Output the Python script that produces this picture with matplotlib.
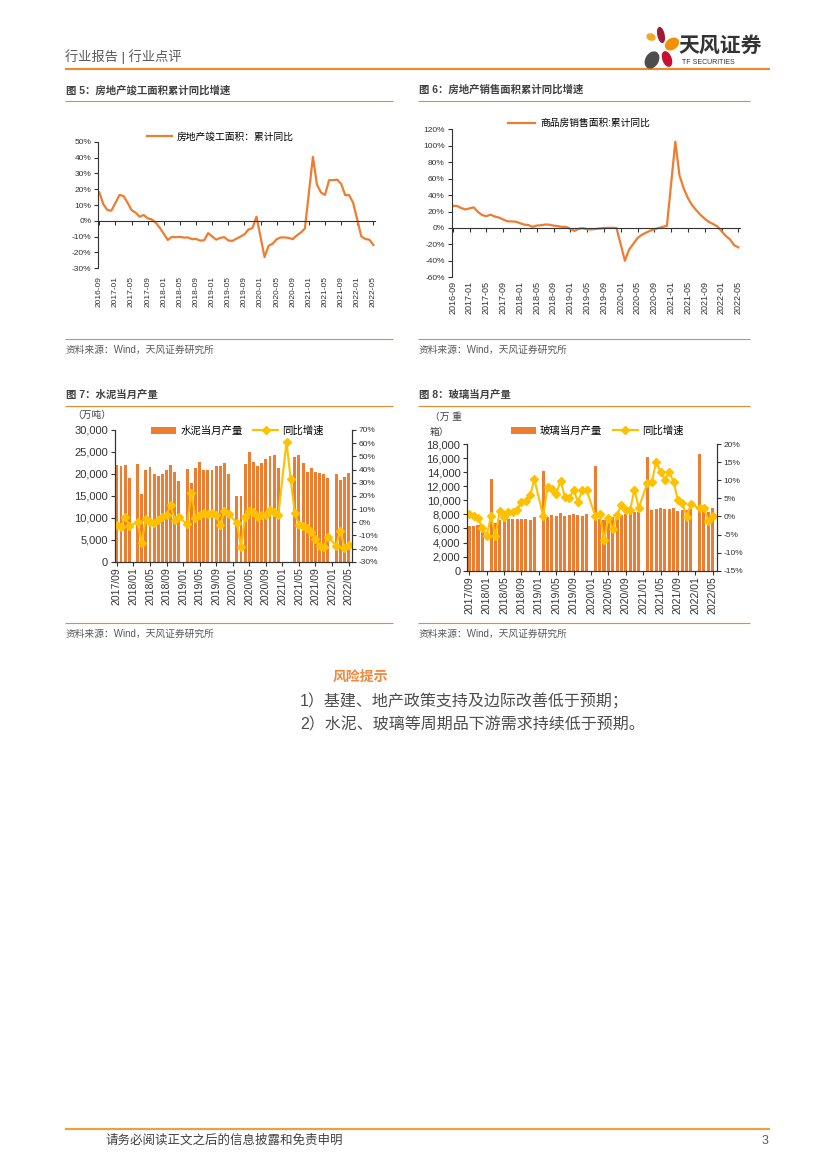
import numpy as np
import pandas as pd
import matplotlib
matplotlib.use('Agg')
import matplotlib.pyplot as plt
from matplotlib.patches import Ellipse
from matplotlib.ticker import FuncFormatter, MultipleLocator

plt.rcParams['font.family'] = ['Liberation Sans', 'Noto Sans CJK SC']
plt.rcParams['axes.unicode_minus'] = False

nan = np.nan

# 图5 / 图6：2016-09 ~ 2022-05，累计同比(%)，1月无数据
meses_56 = pd.date_range('2016-09-01', '2022-05-01', freq='MS').strftime('%Y-%m').tolist()
jungong = [18.0, 10.5, 6.8, 6.4,
           nan, 16.3, 15.7, 11.5, 6.8, 5.2, 2.6, 3.7, 1.6, 0.9, -1.2, -4.4,
           nan, -12.1, -10.1, -10.4, -10.1, -10.6, -10.5, -11.6, -11.4, -12.5, -12.3, -7.8,
           nan, -11.9, -10.8, -10.3, -12.4, -12.7, -11.3, -10.0, -8.6, -5.5, -4.5, 2.6,
           nan, -22.9, -15.8, -14.5, -11.6, -10.5, -10.5, -10.8, -11.6, -9.2, -7.4, -4.9,
           nan, 40.4, 22.9, 17.9, 16.4, 25.7, 25.7, 26.0, 23.4, 16.3, 16.2, 11.2,
           nan, -9.8, -11.5, -11.9, -15.3]
xiaoshou = [26.9, 26.8, 24.3, 22.5,
            nan, 25.1, 19.5, 15.7, 14.3, 16.1, 14.0, 12.7, 10.3, 8.2, 7.9, 7.7,
            nan, 4.1, 3.6, 1.3, 2.9, 3.3, 4.2, 4.0, 2.9, 2.2, 1.4, 1.3,
            nan, -3.6, -0.9, -0.3, -1.6, -1.8, -1.3, -0.6, -0.1, 0.1, 0.2, -0.1,
            nan, -39.9, -26.3, -19.3, -12.3, -8.4, -5.8, -3.3, -1.8, 0.0, 1.3, 2.6,
            nan, 104.9, 63.8, 48.1, 36.3, 27.7, 21.5, 15.9, 11.3, 7.3, 4.8, 1.9,
            nan, -9.6, -13.8, -20.9, -23.6]

# 图7 / 图8：2017/09 ~ 2022/05 当月产量与同比(%)
meses_78 = pd.date_range('2017-09-01', '2022-05-01', freq='MS').strftime('%Y/%m').tolist()
shuini = [22000, 21900, 22000, 19100, nan, 22300, 15400, 21000, 21500, 20000, 19500, 20000,
          20800, 22000, 20500, 18300, nan, 21200, 18000, 21400, 22700, 21000, 21000, 21000,
          21700, 21800, 22400, 20000, nan, 15000, 14900, 22300, 24900, 22800, 21800, 22500,
          23400, 24100, 24400, 21300, nan, nan, nan, 23900, 24200, 22400, 20500, 21400,
          20500, 20200, 19900, 19000, nan, 19900, 18600, 19400, 20200]
shuini_yoy = [-2.2, -3.6, 4.3, -2.9, nan, 0.0, -15.6, 2.5, 0.4, -0.9, 1.6, 4.2,
              5.4, 13.0, 1.6, 3.7, nan, -1.4, 22.2, 2.9, 5.4, 6.7, 5.9, 7.2,
              5.4, -2.2, 8.7, 6.2, nan, -0.4, -18.6, 4.2, 8.7, 8.0, 3.7, 5.4,
              5.4, 9.2, 8.0, 5.4, nan, 61.0, 32.5, 6.7, -2.2, -2.9, -4.7, -7.5,
              -13.0, -18.0, -18.6, -11.0, nan, -17.8, -6.5, -19.5, -17.0]
boli = [6300, 6400, 6500, 5900, nan, 13000, 6800, 7200, 7300, 7300, 7300, 7300,
        7300, 7400, 7200, 7600, nan, 14200, 7600, 7900, 7800, 8150, 7800, 7900,
        8050, 7900, 7800, 8100, nan, 14900, 7400, 7200, 7300, 7600, 7800, 7900,
        8050, 8250, 8400, 8400, nan, 16100, 8600, 8700, 8850, 8750, 8800, 8850,
        8500, 8600, 8600, 8700, nan, 16600, 8600, 8400, 8850]
boli_yoy = [0.8, 0.2, -0.4, -3.2, -5.4, 0.1, -5.4, 1.4, -0.3, 1.2, 1.3, 1.9,
            4.0, 4.3, 5.9, 10.2, nan, 0.0, 8.0, 7.5, 6.2, 9.9, 5.4, 5.0,
            7.3, 4.0, 7.3, 7.2, nan, 0.1, 0.6, -6.5, -0.5, -3.6, 0.4, 3.2,
            1.7, 1.8, 7.4, 2.4, nan, 9.3, 9.4, 15.1, 12.3, 10.1, 12.3, 9.6,
            4.5, 3.8, -0.1, 3.4, nan, 2.2, 2.2, -1.2, 0.0]

NARANJA = '#ED7D31'
AMARILLO = '#FFC000'
LINEA = '#E98B2E'
GRIS = '#404040'

W, H = 827, 1169
fig = plt.figure(figsize=(W / 100, H / 100), dpi=100)

# capa de pagina en pixeles
page = fig.add_axes([0, 0, 1, 1])
page.set_xlim(0, W)
page.set_ylim(H, 0)
page.axis('off')


def eje(l, t, r, b):
    return fig.add_axes([l / W, 1 - b / H, (r - l) / W, (b - t) / H])


def raya(x0, x1, y, color=LINEA, lw=0.8):
    page.plot([x0, x1], [y, y], color=color, lw=lw, solid_capstyle='butt')


pct = FuncFormatter(lambda v, p: '%d%%' % round(v))
miles = FuncFormatter(lambda v, p: '{:,.0f}'.format(v))

# cabecera
page.text(65, 57, '行业报告 | 行业点评', fontsize=9.5, color='#595959', va='center')
raya(65, 770, 69, color=LINEA, lw=1.6)
for (cx, cy, w, h, ang, c) in [(651, 37, 8, 6, 20, '#F6A623'),
                               (661, 35, 6, 15, -12, '#9E1B32'),
                               (672, 44, 14, 10, -35, '#F29100'),
                               (652, 60, 12, 17, 30, '#4D4D4D'),
                               (667, 59, 8, 15, -20, '#C8102E')]:
    page.add_patch(Ellipse((cx, cy), w, h, angle=ang, color=c, zorder=3))
page.text(720, 46, '天风证券', fontsize=15, fontweight='bold', color='#333333',
          ha='center', va='center')
page.text(682, 63, 'TF SECURITIES', fontsize=5, color='#333333', va='center')

# titulos, rayas y fuentes
for x0, x1, t_y, titulo in [(65, 393, 90, '图 5：房地产竣工面积累计同比增速'),
                            (418, 750, 90, '图 6：房地产销售面积累计同比增速'),
                            (65, 393, 395, '图 7：水泥当月产量'),
                            (418, 750, 395, '图 8：玻璃当月产量')]:
    page.text(x0 + 1, t_y, titulo, fontsize=7.5, fontweight='bold', color=GRIS, va='center')
    raya(x0, x1, t_y + 10.5)
for x0, x1, s_y in [(65, 393, 339), (418, 750, 339), (65, 393, 623), (418, 750, 623)]:
    raya(x0, x1, s_y)
    page.text(x0 + 1, s_y + 10.5, '资料来源：Wind，天风证券研究所', fontsize=7,
              color='#595959', va='center')


def estilo_linea(ax, ylim, paso, pad, xsize):
    ax.set_ylim(*ylim)
    ax.yaxis.set_major_locator(MultipleLocator(paso))
    ax.yaxis.set_major_formatter(pct)
    for s in ['top', 'right']:
        ax.spines[s].set_visible(False)
    ax.spines['bottom'].set_position(('data', 0))
    for s in ['left', 'bottom']:
        ax.spines[s].set_color('#333333')
        ax.spines[s].set_linewidth(0.8)
    ax.tick_params(axis='y', direction='out', length=3, width=0.8, labelsize=6,
                   colors='#333333', pad=2)
    ax.tick_params(axis='x', direction='out', length=3, width=0.8, labelsize=xsize,
                   colors='#333333', pad=pad, labelrotation=90)
    ax.patch.set_alpha(0)


def linea(ax, y, etiqueta):
    y = np.array(y, dtype=float)
    x = np.arange(len(y))
    ok = ~np.isnan(y)
    return ax.plot(x[ok], y[ok], color=NARANJA, lw=1.6, label=etiqueta)


# 图5
ax5 = eje(98.3, 141.7, 375, 268.3)
linea(ax5, jungong, '房地产竣工面积：累计同比')
ax5.set_xlim(-0.25, 68.4)
ax5.set_xticks(range(0, len(meses_56), 4))
ax5.set_xticklabels(meses_56[::4])
estilo_linea(ax5, (-30, 50), 10, 36.5, 6)
ax5.legend(loc='center', bbox_to_anchor=(220.5, 136.7), bbox_transform=page.transData,
           frameon=False, fontsize=7, handlelength=2.6, handletextpad=0.5)

# 图6
ax6 = eje(451.7, 129.3, 740, 277.3)
linea(ax6, xiaoshou, '商品房销售面积:累计同比')
ax6.set_xlim(-0.24, 68.4)
ax6.set_xticks(range(0, len(meses_56), 4))
ax6.set_xticklabels(meses_56[::4])
estilo_linea(ax6, (-60, 120), 20, 35, 6.5)
ax6.legend(loc='center', bbox_to_anchor=(579, 123.3), bbox_transform=page.transData,
           frameon=False, fontsize=7, handlelength=2.8, handletextpad=0.5)


def barras(caja, xlim, prod, yoy, ylim_l, paso_l, ylim_r, paso_r, nombre, centro):
    ax = eje(*caja)
    x = np.arange(len(prod))
    b = ax.bar(x, np.array(prod, dtype=float), width=0.7, color=NARANJA, label=nombre)
    ax.set_xlim(*xlim)
    ax.set_ylim(*ylim_l)
    ax.yaxis.set_major_locator(MultipleLocator(paso_l))
    ax.yaxis.set_major_formatter(miles)
    ax.set_xticks(range(0, len(prod), 4))
    ax.set_xticklabels(meses_78[::4])
    axr = ax.twinx()
    y = np.array(yoy, dtype=float)
    ok = ~np.isnan(y)
    l, = axr.plot(x[ok], y[ok], color=AMARILLO, lw=1.5, marker='D', ms=4.5,
                  label='同比增速')
    axr.set_ylim(*ylim_r)
    axr.yaxis.set_major_locator(MultipleLocator(paso_r))
    axr.yaxis.set_major_formatter(pct)
    for a in (ax, axr):
        a.spines['top'].set_visible(False)
        for s in ['left', 'right', 'bottom']:
            a.spines[s].set_color('#333333')
            a.spines[s].set_linewidth(0.8)
    ax.tick_params(axis='y', direction='out', length=3, width=0.8, labelsize=8,
                   colors='#333333', pad=2)
    ax.tick_params(axis='x', direction='out', length=3, width=0.8, labelsize=7.5,
                   colors='#333333', pad=1, labelrotation=90)
    axr.tick_params(axis='y', direction='out', length=3, width=0.8, labelsize=6,
                    colors='#333333', pad=2)
    axr.legend([b, l], [nombre, '同比增速'], loc='center', bbox_to_anchor=centro,
               bbox_transform=page.transData, ncol=2, frameon=False, fontsize=7.5,
               handlelength=2.4, handletextpad=0.4, columnspacing=1.0)
    return ax


barras((115, 430, 351.7, 561.7), (-0.45, 56.75), shuini, shuini_yoy,
       (0, 30000), 5000, (-30, 70), 10, '水泥当月产量', (237.5, 430.7))
page.text(72, 415, '（万吨）', fontsize=7, color=GRIS, va='center')

barras((467.3, 444, 716.7, 570.7), (-0.46, 56.93), boli, boli_yoy,
       (0, 18000), 2000, (-15, 20), 5, '玻璃当月产量', (597, 430.7))
page.text(430, 417, '（万 重', fontsize=7, color=GRIS, va='center')
page.text(430, 432, '箱）', fontsize=7, color=GRIS, va='center')

# riesgos
page.text(333, 677, '风险提示', fontsize=10, fontweight='bold', color='#F0883A', va='center')
page.text(300, 701, '1）基建、地产政策支持及边际改善低于预期；', fontsize=11.5,
          color='#4D4D4D', va='center')
page.text(300, 725, '2）水泥、玻璃等周期品下游需求持续低于预期。', fontsize=11.5,
          color='#4D4D4D', va='center')

# pie
raya(65, 770, 1129, color='#E8A33D', lw=1.6)
page.text(105, 1141, '请务必阅读正文之后的信息披露和免责申明', fontsize=9, color=GRIS, va='center')
page.text(768, 1141, '3', fontsize=9, color='#595959', va='center', ha='right')

fig.savefig('out.png', dpi=100)
